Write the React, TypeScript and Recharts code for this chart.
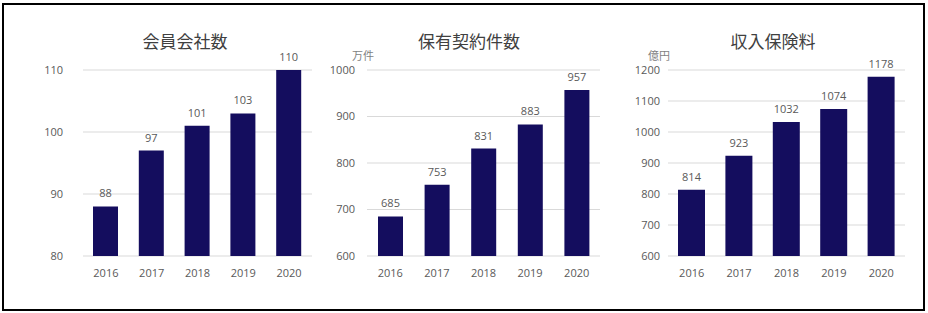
import { BarChart, Bar, XAxis, YAxis, CartesianGrid, LabelList } from "recharts";

const years = ["2016", "2017", "2018", "2019", "2020"];
const memberCompanies = [88, 97, 101, 103, 110];
const contractsHeld = [685, 753, 831, 883, 957];
const premiumIncome = [814, 923, 1032, 1074, 1178];

const memberTicks = [80, 90, 100, 110];
const contractTicks = [600, 700, 800, 900, 1000];
const premiumTicks = [600, 700, 800, 900, 1000, 1100, 1200];

const NAVY = "#140d5e";
const GRAY = "#595959";
const FONT = "'Open Sans', 'Noto Sans CJK JP', sans-serif";

type PanelProps = {
  title: string;
  unit?: string;
  values: number[];
  ticks: number[];
  left: number;
  width: number;
  axisWidth: number;
  tickGap: number;
  right: number;
  barSize: number;
  titleX: number;
  unitX?: number;
};

function Panel(p: PanelProps) {
  const data = years.map((year, i) => ({ year, value: p.values[i] }));
  return (
    <div style={{ position: "absolute", left: p.left, top: 0, width: p.width, height: 313 }}>
      <div
        style={{
          position: "absolute",
          left: p.titleX - p.left - 100,
          width: 200,
          top: 30,
          textAlign: "center",
          fontSize: 17,
          color: "#404040",
          fontFamily: FONT,
          lineHeight: "24px",
        }}
      >
        {p.title}
      </div>
      {p.unit && (
        <div
          style={{
            position: "absolute",
            left: (p.unitX ?? 0) - p.left - 20,
            width: 40,
            top: 48,
            textAlign: "center",
            fontSize: 11,
            color: "#7f7f7f",
            fontFamily: FONT,
            lineHeight: "16px",
          }}
        >
          {p.unit}
        </div>
      )}
      <BarChart
        width={p.width}
        height={313}
        data={data}
        margin={{ top: 70, right: p.right, bottom: 27, left: 0 }}
        style={{ fontFamily: FONT }}
      >
        <CartesianGrid vertical={false} stroke="#d9d9d9" />
        <XAxis
          dataKey="year"
          height={30}
          axisLine={false}
          tickLine={false}
          tickSize={0}
          tickMargin={13}
          tick={{ fill: GRAY, fontSize: 11 }}
        />
        <YAxis
          domain={[p.ticks[0], p.ticks[p.ticks.length - 1]]}
          ticks={p.ticks}
          width={p.axisWidth}
          axisLine={false}
          tickLine={false}
          tickSize={0}
          tickMargin={p.tickGap}
          tick={{ fill: GRAY, fontSize: 11 }}
        />
        <Bar dataKey="value" fill={NAVY} barSize={p.barSize} isAnimationActive={false}>
          <LabelList dataKey="value" position="top" offset={9} fill={GRAY} fontSize={11} />
        </Bar>
      </BarChart>
    </div>
  );
}

export default function App() {
  return (
    <div style={{ position: "absolute", left: 0, top: 0, width: 928, height: 313, background: "#fff" }}>
      <div
        style={{
          position: "absolute",
          left: 2,
          top: 3,
          width: 923,
          height: 308,
          border: "2px solid #000",
          boxSizing: "border-box",
        }}
      />
      <Panel
        title="会員会社数"
        values={memberCompanies}
        ticks={memberTicks}
        left={0}
        width={320}
        axisWidth={83}
        tickGap={20}
        right={8}
        barSize={25}
        titleX={185}
      />
      <Panel
        title="保有契約件数"
        unit="万件"
        values={contractsHeld}
        ticks={contractTicks}
        left={300}
        width={310}
        axisWidth={67}
        tickGap={12}
        right={10}
        barSize={25}
        titleX={469}
        unitX={363}
      />
      <Panel
        title="収入保険料"
        unit="億円"
        values={premiumIncome}
        ticks={premiumTicks}
        left={610}
        width={318}
        axisWidth={58}
        tickGap={8}
        right={23}
        barSize={27}
        titleX={773}
        unitX={659}
      />
    </div>
  );
}
